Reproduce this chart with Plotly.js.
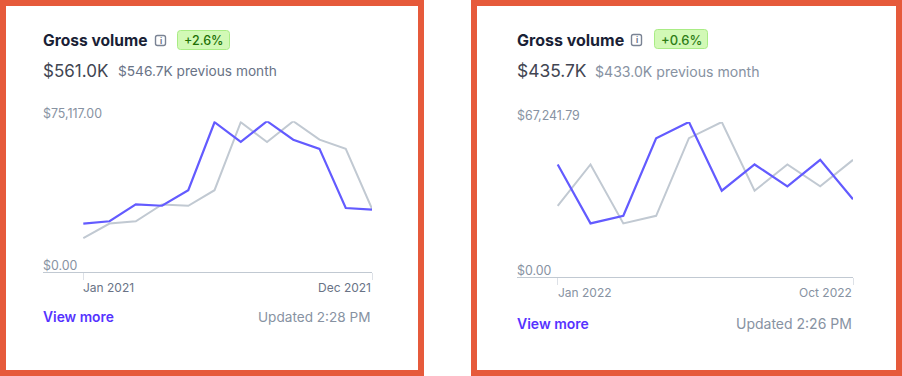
<!DOCTYPE html>
<html>
<head>
<meta charset="utf-8">
<script src="https://cdn.plot.ly/plotly-3.0.1.min.js"></script>
<style>html,body{margin:0;padding:0;background:#fff;overflow:hidden}#chart{width:902px;height:376px}</style>
</head>
<body>
<div id="chart"></div>
<script>
// ---- data ----
const months2021 = ['Jan 2021','Feb 2021','Mar 2021','Apr 2021','May 2021','Jun 2021','Jul 2021','Aug 2021','Sep 2021','Oct 2021','Nov 2021','Dec 2021'];
const current2021 = [24050,25200,33600,32950,40700,74600,64750,75117,65900,61300,31800,30970];
const previous2021 = [16800,24050,25200,33600,32950,40700,74600,64750,75117,65900,61300,31400];
const months2022 = ['Jan 2022','Feb 2022','Mar 2022','Apr 2022','May 2022','Jun 2022','Jul 2022','Aug 2022','Sep 2022','Oct 2022'];
const current2022 = [48800,23200,26500,60200,67241.79,37400,48800,39300,50800,33700];
const previous2022 = [30800,48800,23200,26500,60200,67241.79,37400,48800,39300,50800];

const W = 902, H = 376;
const px = x => x / W, py = y => 1 - y / H;
const PURPLE = '#635BFF', GREY = '#C1C9D2', DARK = '#1A1F36', SUB = '#697386', MUTED = '#8792A2', FRAME = '#E65A3B';
const FONT = 'Inter, "Noto Sans", sans-serif';

const traces = [
  {x: months2021, y: previous2021, xaxis:'x', yaxis:'y', mode:'lines', line:{color:GREY,width:2}, cliponaxis:false, hoverinfo:'skip'},
  {x: months2021, y: current2021, xaxis:'x', yaxis:'y', mode:'lines', line:{color:PURPLE,width:2.2}, cliponaxis:false, hoverinfo:'skip'},
  {x: months2022, y: previous2022, xaxis:'x2', yaxis:'y2', mode:'lines', line:{color:GREY,width:2}, cliponaxis:false, hoverinfo:'skip'},
  {x: months2022, y: current2022, xaxis:'x2', yaxis:'y2', mode:'lines', line:{color:PURPLE,width:2.2}, cliponaxis:false, hoverinfo:'skip'}
];

function xAxis(anchor, cats, left, right, firstPx, lastPx) {
  const step = (lastPx - firstPx) / (cats.length - 1);
  return {
    type:'category', categoryorder:'array', categoryarray:cats, anchor,
    domain:[px(left), px(right)],
    range:[-(firstPx - left) / step, cats.length - 1],
    tickmode:'array', tickvals:[cats[0], cats[cats.length-1]], showticklabels:false,
    ticks:'outside', ticklen:7, tickwidth:1, tickcolor:'#DDE1E7',
    showline:true, linecolor:GREY, linewidth:1, showgrid:false, zeroline:false, fixedrange:true
  };
}
function yAxis(anchor, bottom, top, maxV) {
  return {anchor, domain:[py(bottom), py(top)], range:[0,maxV], visible:false, fixedrange:true};
}

function txt(text, x, y, size, color, anchor, weight) {
  return {text, x:px(x), y:py(y), xref:'paper', yref:'paper', xanchor:anchor||'left', yanchor:'middle',
    showarrow:false, borderpad:0, font:{family:FONT, size, color, weight:weight||400}};
}
function roundRect(x0,y0,x1,y1,r) {
  const X=v=>px(v), Y=v=>py(v);
  const xr=r/W, yr=r/H;
  return `M${X(x0)+xr},${Y(y0)} L${X(x1)-xr},${Y(y0)} Q${X(x1)},${Y(y0)} ${X(x1)},${Y(y0)-yr} L${X(x1)},${Y(y1)+yr} Q${X(x1)},${Y(y1)} ${X(x1)-xr},${Y(y1)} L${X(x0)+xr},${Y(y1)} Q${X(x0)},${Y(y1)} ${X(x0)},${Y(y1)+yr} L${X(x0)},${Y(y0)-yr} Q${X(x0)},${Y(y0)} ${X(x0)+xr},${Y(y0)} Z`;
}
function path(d, fill, line, width) {
  return {type:'path', xref:'paper', yref:'paper', path:d, fillcolor:fill, line:{color:line,width:width||1}, layer:'below'};
}
function frame(x0,x1) {
  return {type:'rect', xref:'paper', yref:'paper', x0:px(x0), x1:px(x1), y0:py(373), y1:py(3),
    fillcolor:'#ffffff', line:{color:FRAME,width:6}, layer:'below'};
}

const shapes = [
  frame(3,421), frame(474,899),
  path(roundRect(155.5,35.5,165.5,45.5,2), 'rgba(0,0,0,0)', '#7A8394', 1.4),
  path(roundRect(177.5,30.5,229.5,49.5,3), '#D2F9B6', '#A9EC85', 1),
  path(roundRect(631.5,34.5,641.5,45.5,2), 'rgba(0,0,0,0)', '#7A8394', 1.4),
  path(roundRect(654.5,29.5,707.5,48.5,3), '#D2F9B6', '#A9EC85', 1)
];

const annotations = [
  txt('Gross volume',42,40,15.6,DARK,'left',700),
  txt('i',160.5,40.5,8,'#697386','center',700),
  txt('+2.6%',203.5,40.5,12.5,'#217005','center',500),
  txt('$561.0K',42,70.5,17,'#414552'),
  txt('$546.7K previous month',117,71,13.7,SUB),
  txt('$75,117.00',42,113.5,12.4,MUTED),
  txt('$0.00',42,265.5,12.4,MUTED),
  txt('Jan 2021',82,287,12,SUB),
  txt('Dec 2021',372,287,12,SUB,'right'),
  txt('View more',42,317,13.8,'#5633FF','left',600),
  txt('Updated 2:28 PM',371,317,13.6,MUTED,'right'),

  txt('Gross volume',516,39.5,16,DARK,'left',700),
  txt('i',636.5,40,8,'#697386','center',700),
  txt('+0.6%',681,40,13,'#2E7D16','center',500),
  txt('$435.7K',516,70,17.4,'#414552'),
  txt('$433.0K previous month',594,71,14.1,MUTED),
  txt('$67,241.79',516,115,12.4,MUTED),
  txt('$0.00',516,270,12.4,MUTED),
  txt('Jan 2022',557,292,12,MUTED),
  txt('Oct 2022',853,292,12,MUTED,'right'),
  txt('View more',516,323,14,'#5633FF','left',600),
  txt('Updated 2:26 PM',853,323,14,MUTED,'right')
];

const layout = {
  width:W, height:H, margin:{l:0,r:0,t:0,b:0}, paper_bgcolor:'#ffffff', plot_bgcolor:'rgba(0,0,0,0)',
  showlegend:false, font:{family:FONT},
  xaxis: xAxis('y', months2021, 43, 372, 83.3, 372),
  yaxis: yAxis('x', 271.8, 121.2, 75117),
  xaxis2: xAxis('y2', months2022, 517, 853, 557.7, 853),
  yaxis2: yAxis('x2', 276.8, 122, 67241.79),
  shapes, annotations
};
Plotly.newPlot('chart', traces, layout, {displayModeBar:false, staticPlot:true});
</script>
</body>
</html>
